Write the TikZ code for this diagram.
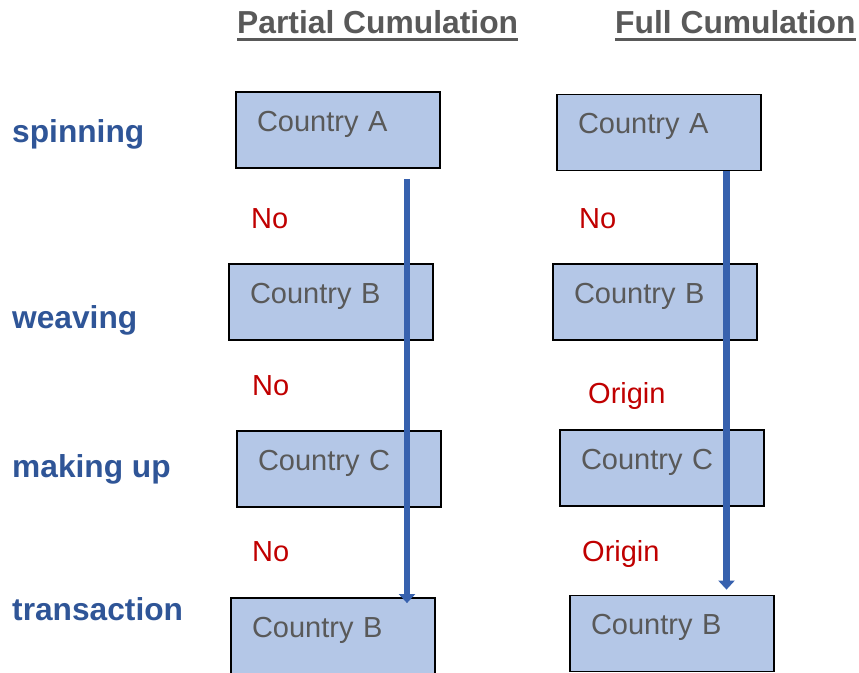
\documentclass[tikz,border=0pt]{standalone}
\usepackage{fontspec}
\setmainfont{Liberation Sans}
\usetikzlibrary{arrows.meta}
\definecolor{boxfill}{HTML}{B4C7E7}
\definecolor{txtgray}{HTML}{595959}
\definecolor{stageblue}{HTML}{2F5597}
\definecolor{flowblue}{HTML}{3761AE}
\definecolor{verdictred}{HTML}{C00000}

\begin{document}
\begin{tikzpicture}[x=1pt,y=-1pt,
  ctry/.style={draw=black, line width=1.8pt, fill=boxfill, minimum width=204pt, minimum height=76pt,
    inner xsep=21pt, text width=162pt, align=left, text height=8pt, text depth=6pt,
    text=txtgray, font=\fontsize{29}{32}\selectfont},
  stage/.style={anchor=base west, inner sep=0pt, text=stageblue, font=\fontsize{31.7}{34}\selectfont\bfseries},
  verdict/.style={anchor=base west, inner sep=0pt, text=verdictred, font=\fontsize{29}{32}\selectfont},
  head/.style={anchor=base west, inner sep=0pt, text=txtgray, font=\fontsize{31.8}{36}\selectfont\bfseries},
  flow/.style={draw=flowblue, line width=6.5pt, -{Triangle[width=16pt,length=9pt]}}]
\useasboundingbox (0,0) rectangle (859,672);
% column heads
\node[head] (hdP) at (237,33) {Partial Cumulation};
\node[head] (hdF) at (615,33) {Full Cumulation};
\draw[txtgray, line width=3pt] ([yshift=-6.5pt]hdP.base west) -- ([yshift=-6.5pt]hdP.base east);
\draw[txtgray, line width=3pt] ([yshift=-6.5pt]hdF.base west) -- ([yshift=-6.5pt]hdF.base east);
% stages
\node[stage] (spin) at (12,142) {spinning};
\node[stage] (weave) at (12,328) {weaving};
\node[stage] (make) at (12,477) {making up};
\node[stage] (trans) at (12,620) {transaction};
% partial cumulation
\node[ctry] (pA) at (338,130) {Country A};
\node[ctry] (pB) at (331,302) {Country B};
\node[ctry] (pC) at (339,469) {Country C};
\node[ctry] (pD) at (333,636) {Country B};
\node[verdict] (pv1) at (251,228) {No};
\node[verdict] (pv2) at (252,395) {No};
\node[verdict] (pv3) at (252,561) {No};
% full cumulation
\node[ctry] (fA) at (659,132.5) {Country A};
\node[ctry] (fB) at (655,302) {Country B};
\node[ctry] (fC) at (662,468) {Country C};
\node[ctry] (fD) at (672,633.5) {Country B};
\node[verdict] (fv1) at (579,228) {No};
\node[verdict] (fv2) at (588,403) {Origin};
\node[verdict] (fv3) at (582,561) {Origin};
% flows
\draw[flow] ([xshift=69pt,yshift=-10pt]pA.south) -- ([xshift=74pt,yshift=-6pt]pD.north);
\draw[flow] ([xshift=67.5pt]fA.south) -- ([xshift=54.5pt,yshift=5pt]fD.north);
\end{tikzpicture}
\end{document}
